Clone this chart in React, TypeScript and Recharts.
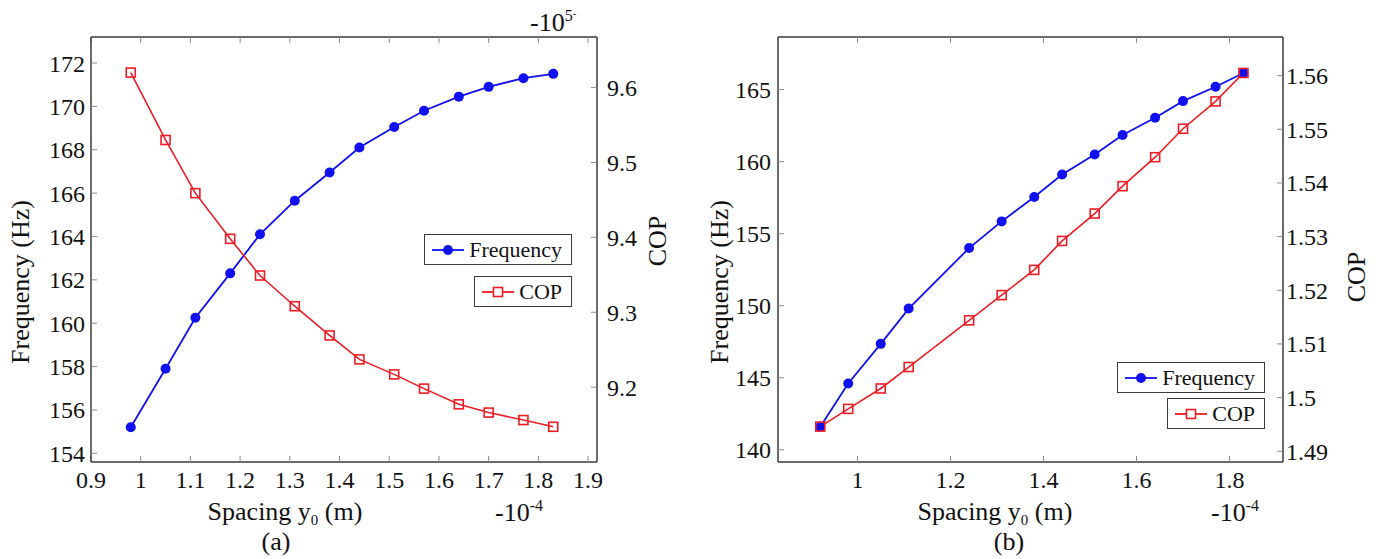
import { LineChart, Line, XAxis, YAxis, Legend } from 'recharts';

// panel (a)
const spacingA = [0.98, 1.05, 1.11, 1.18, 1.24, 1.31, 1.38, 1.44, 1.51, 1.57, 1.64, 1.7, 1.77, 1.83];
const frequencyA = [155.2, 157.9, 160.25, 162.3, 164.1, 165.65, 166.95, 168.1, 169.05, 169.8, 170.45, 170.9, 171.3, 171.5];
const copA = [9.62, 9.53, 9.459, 9.398, 9.349, 9.308, 9.269, 9.237, 9.217, 9.198, 9.177, 9.166, 9.156, 9.147];
const xTicksA = [0.9, 1, 1.1, 1.2, 1.3, 1.4, 1.5, 1.6, 1.7, 1.8, 1.9];
const freqTicksA = [154, 156, 158, 160, 162, 164, 166, 168, 170, 172];
const copTicksA = [9.2, 9.3, 9.4, 9.5, 9.6];

// panel (b)
const spacingB = [0.92, 0.98, 1.05, 1.11, 1.24, 1.31, 1.38, 1.44, 1.51, 1.57, 1.64, 1.7, 1.77, 1.83];
const frequencyB = [141.6, 144.6, 147.35, 149.8, 154.0, 155.85, 157.55, 159.1, 160.5, 161.85, 163.05, 164.2, 165.2, 166.15];
const copB = [1.4946, 1.4979, 1.5017, 1.5057, 1.5144, 1.5191, 1.5238, 1.5292, 1.5343, 1.5394, 1.5448, 1.5501, 1.5552, 1.5605];
const xTicksB = [1, 1.2, 1.4, 1.6, 1.8];
const freqTicksB = [140, 145, 150, 155, 160, 165];
const copTicksB = [1.49, 1.5, 1.51, 1.52, 1.53, 1.54, 1.55, 1.56];

const FONT = 'Liberation Serif';
const BLUE = '#1010f0';
const RED = '#ee1c24';
const AXIS = '#3a3a3a';
const TICK = '#8a8a8a';

const toRows = (xs: number[], fs: number[], cs: number[]) =>
  xs.map((x, i) => ({ x, freq: fs[i], cop: cs[i] }));

const tickStyle = { fontFamily: FONT, fontSize: 24, fill: '#111' };

const SquareDot = (props: any) => {
  const { cx, cy, index } = props;
  if (cx == null || cy == null) return <g key={index} />;
  return (
    <rect key={index} x={cx - 4.5} y={cy - 4.5} width={9} height={9}
      fill="#fff" fillOpacity={0} stroke={RED} strokeWidth={1.6} />
  );
};

function LegendBox({ name, color, square }: { name: string; color: string; square?: boolean }) {
  return (
    <div style={{
      display: 'flex', alignItems: 'center', height: 29, padding: '0 9px 0 6px',
      border: `1.5px solid ${AXIS}`, background: '#fff', fontFamily: FONT, fontSize: 22, color: '#111',
    }}>
      <svg width={34} height={14} style={{ marginRight: 4 }}>
        <line x1={1} y1={7} x2={33} y2={7} stroke={color} strokeWidth={1.8} />
        {square
          ? <rect x={12.5} y={2.5} width={9} height={9} fill="#fff" stroke={color} strokeWidth={1.6} />
          : <circle cx={17} cy={7} r={5} fill={color} />}
      </svg>
      <span>{name}</span>
    </div>
  );
}

type PanelProps = {
  xs: number[]; fs: number[]; cs: number[];
  width: number; leftW: number; rightW: number;
  xDomain: [number, number]; xTicks: number[];
  fDomain: [number, number]; fTicks: number[];
  cDomain: [number, number]; cTicks: number[];
  cTickMargin: number; fTickMargin: number;
  letter: string;
  spacingX: number; letterX: number; powX: number;
  freqLabelX: number; copLabelX: number; copLabelY: number;
  legendLeft: number; legendTop: number; legendWidth: number; legendGap: number;
  topPower?: boolean;
};

function Panel(p: PanelProps) {
  const data = toRows(p.xs, p.fs, p.cs);

  const bottomLabel = () => (
    <g fontFamily={FONT} fill="#111" style={{ fontFamily: FONT }}>
      <text x={p.spacingX} y={520} textAnchor="middle" fontSize={26}>
        Spacing y<tspan dy={5} fontSize={15}>0</tspan><tspan dy={-5}> (m)</tspan>
      </text>
      <text x={p.letterX} y={550} textAnchor="middle" fontSize={26}>({p.letter})</text>
      <text x={p.powX} y={521} fontSize={26}>
        -10<tspan dy={-10} fontSize={16}>-4</tspan>
      </text>
    </g>
  );

  const topLabel = () =>
    p.topPower ? (
      <text x={530} y={31} fontFamily={FONT} fontSize={26} fill="#111" style={{ fontFamily: FONT }}>
        -10<tspan dy={-10} fontSize={16}>5</tspan><tspan dy={-4} fontSize={11}>-</tspan>
      </text>
    ) : null;

  const freqLabel = () => (
    <text x={p.freqLabelX} y={282} transform={`rotate(-90 ${p.freqLabelX} 282)`} style={{ fontFamily: FONT }}
      textAnchor="middle" dominantBaseline="central" fontFamily={FONT} fontSize={26} fill="#111">
      Frequency (Hz)
    </text>
  );

  const copLabel = () => (
    <text x={p.copLabelX} y={p.copLabelY} transform={`rotate(-90 ${p.copLabelX} ${p.copLabelY})`}
      style={{ fontFamily: FONT }}
      textAnchor="middle" dominantBaseline="central" fontFamily={FONT} fontSize={26} fill="#111">
      COP
    </text>
  );

  return (
    <LineChart width={p.width} height={559} data={data} style={{ fontFamily: FONT }}
      margin={{ top: 7, right: 0, bottom: 57, left: 0 }}>
      <XAxis dataKey="x" type="number" domain={p.xDomain} ticks={p.xTicks} allowDataOverflow
        height={40} tickSize={-6} tickMargin={15} tick={tickStyle}
        tickLine={{ stroke: TICK }} axisLine={{ stroke: AXIS, strokeWidth: 1.5 }}
        tickFormatter={(v: number) => String(v)} label={bottomLabel} />
      <XAxis xAxisId={1} orientation="top" dataKey="x" type="number" domain={p.xDomain} ticks={p.xTicks}
        allowDataOverflow height={30} tickSize={-6} tickFormatter={() => ''}
        tickLine={{ stroke: TICK }} axisLine={{ stroke: AXIS, strokeWidth: 1.5 }} label={topLabel} />
      <YAxis yAxisId={0} type="number" domain={p.fDomain} ticks={p.fTicks} allowDataOverflow
        width={p.leftW} tickSize={-6} tickMargin={p.fTickMargin} tick={tickStyle}
        tickLine={{ stroke: TICK }} axisLine={{ stroke: AXIS, strokeWidth: 1.5 }} label={freqLabel} />
      <YAxis yAxisId={1} orientation="right" type="number" domain={p.fDomain} ticks={p.fTicks}
        allowDataOverflow width={0} tickSize={-6} tickFormatter={() => ''}
        tickLine={{ stroke: TICK }} axisLine={false} />
      <YAxis yAxisId="cop" orientation="right" type="number" domain={p.cDomain} ticks={p.cTicks}
        allowDataOverflow width={p.rightW} tickSize={-6} tickMargin={p.cTickMargin} tick={tickStyle}
        tickFormatter={(v: number) => String(v)}
        tickLine={{ stroke: TICK }} axisLine={{ stroke: AXIS, strokeWidth: 1.5 }} label={copLabel} />
      <Legend layout="horizontal" verticalAlign="middle" align="center"
        wrapperStyle={{ left: p.legendLeft, top: p.legendTop, width: p.legendWidth, bottom: 'auto', right: 'auto' }}
        content={() => (
          <div style={{ display: 'flex', flexDirection: 'column', alignItems: 'flex-end', gap: p.legendGap }}>
            <LegendBox name="Frequency" color={BLUE} />
            <LegendBox name="COP" color={RED} square />
          </div>
        )} />
      <Line yAxisId={0} dataKey="freq" name="Frequency" stroke={BLUE} strokeWidth={1.8}
        dot={{ r: 5, fill: BLUE, stroke: BLUE, strokeWidth: 0 }} isAnimationActive={false} />
      <Line yAxisId="cop" dataKey="cop" name="COP" stroke={RED} strokeWidth={1.6}
        dot={SquareDot} isAnimationActive={false} />
    </LineChart>
  );
}

export default function App() {
  return (
    <div style={{ position: 'absolute', left: 0, top: 0, width: 1378, height: 559, background: '#fff', fontFamily: FONT }}>
      <div style={{ position: 'absolute', left: 0, top: 0 }}>
        <Panel xs={spacingA} fs={frequencyA} cs={copA}
          width={690} leftW={91} rightW={93}
          xDomain={[0.9, 1.918]} xTicks={xTicksA}
          fDomain={[153.6, 173.2]} fTicks={freqTicksA}
          cDomain={[9.1, 9.6675]} cTicks={copTicksA}
          fTickMargin={12} cTickMargin={16}
          letter="a" spacingX={285} letterX={276} powX={495}
          freqLabelX={20} copLabelX={657} copLabelY={241}
          legendLeft={400} legendTop={234} legendWidth={172} legendGap={11}
          topPower />
      </div>
      <div style={{ position: 'absolute', left: 690, top: 0 }}>
        <Panel xs={spacingB} fs={frequencyB} cs={copB}
          width={688} leftW={88} rightW={95}
          xDomain={[0.829, 1.915]} xTicks={xTicksB}
          fDomain={[139.15, 168.65]} fTicks={freqTicksB}
          cDomain={[1.488, 1.5672]} cTicks={copTicksB}
          fTickMargin={13} cTickMargin={9}
          letter="b" spacingX={305} letterX={319} powX={521}
          freqLabelX={29} copLabelX={666} copLabelY={277}
          legendLeft={400} legendTop={362} legendWidth={175} legendGap={5} />
      </div>
    </div>
  );
}
